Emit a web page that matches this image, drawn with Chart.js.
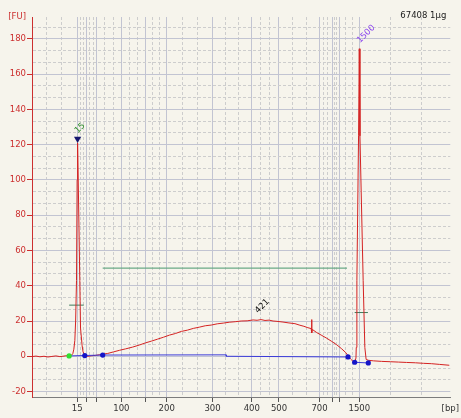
<!DOCTYPE html>
<html>
<head>
<meta charset="utf-8">
<title>Electropherogram 67408</title>
<script src="https://cdn.jsdelivr.net/npm/chart.js@4/dist/chart.umd.min.js"></script>
<style>
  html, body { margin: 0; padding: 0; background: #f6f4ec; }
  #c { display: block; }
</style>
</head>
<body>
<canvas id="c" width="461" height="418"></canvas>
<script>
// ---- sample / axis metadata ----
const sampleTitle = '67408 1\u00b5g';

// DNA ladder: fragment sizes [bp] and their migration times [s]
const ladderSizes  = [15, 25, 50, 100, 150, 200, 300, 400, 500, 700, 850, 1000, 1500];
const ladderTimes  = [35.79, 37.98, 40.48, 46.36, 52.14, 57.21, 68.17, 77.55, 84.05, 93.74, 96.74, 98.40, 103.26];
const labeledSizes = [15, 100, 200, 300, 400, 500, 700, 1500];
// extra dotted time grid outside the ladder range
const outerGridTimes = [28.50, 32.07, 110.79, 118.17];

const timeMin = 25, timeMax = 125;
const fuMin = -23.1, fuMax = 192.4;

// ---- fluorescence trace ----
const traceTime = [
  25.00, 25.95, 26.90, 27.86, 28.81, 29.76, 30.71, 31.67, 32.38, 33.10,
  33.88, 34.45, 34.76, 35.00, 35.24, 35.43, 35.64, 35.79, 35.90, 36.05,
  36.43, 36.60, 36.98, 37.21, 37.62, 38.33, 39.29, 40.24, 41.19,
  41.90, 43.10, 44.52, 45.95, 47.38, 49.05, 50.71, 52.14, 53.57, 55.00,
  56.43, 57.86, 59.29, 60.71, 62.14, 63.57, 65.00, 66.43, 67.86, 69.29,
  70.71, 72.14, 73.57, 75.00, 76.43, 77.86, 78.81, 79.76, 80.71, 81.67,
  82.62, 83.57, 85.00, 86.43, 87.86, 89.05, 90.00, 90.95, 91.74, 91.83,
  91.93, 92.02, 93.10, 94.29, 95.48, 96.67, 97.86, 99.05, 100.00, 100.55,
  101.19, 101.79, 102.14, 102.45, 102.52, 102.67, 103.07, 103.24, 103.40, 104.17,
  104.57, 104.88, 105.48, 106.67, 108.57, 110.71, 112.62, 114.52,
  116.67, 118.57, 120.48, 122.38, 124.76
];
const traceFU = [
  -0.2, 0.1, -0.3, 0.0, -0.4, -0.1, 0.2, -0.2, 0.0, 0.3,
  0.3, 0.6, 1.5, 4.0, 9.0, 20.0, 43.0, 100.0, 121.0, 100.0,
  43.0, 16.0, 6.0, 2.5, 0.3, 0.0, 0.3, 0.5, 0.9,
  1.2, 1.6, 2.5, 3.4, 4.2, 5.2, 6.4, 7.6, 8.6, 9.7,
  10.8, 12.0, 12.9, 14.1, 14.8, 15.8, 16.5, 17.3, 17.7, 18.4,
  18.8, 19.3, 19.6, 20.0, 20.1, 20.6, 20.4, 20.8, 20.3, 20.5,
  20.0, 19.8, 19.4, 18.9, 18.5, 17.6, 17.0, 16.2, 15.7, 20.8,
  13.2, 15.2, 13.4, 11.8, 10.2, 8.4, 6.5, 4.2, 2.1, 0.3,
  -1.6, -3.0, -3.6, -1.0, 5.0, 43.0, 125.0, 174.4, 125.0, 43.0,
  5.0, -1.8, -2.3, -2.6, -2.9, -3.1, -3.3, -3.5,
  -3.7, -4.0, -4.2, -4.6, -5.1
];

// ---- integration baseline (null = gap) ----
const baselineTime = [33.88, 41.90, 71.43, 71.45, 100.55, 101.30, 102.14, 105.40];
const baselineFU   = [0.2, 0.7, 0.8, 0.0, -0.4, null, -3.4, -3.8];

// peak start/end markers
const startDotTime = [33.88];
const startDotFU   = [0.2];
const edgeDotTime  = [37.62, 41.90, 100.55, 102.14, 105.40];
const edgeDotFU    = [0.4, 0.7, -0.4, -3.4, -3.8];

// marker time windows and smear region
const windowStart = [33.88, 102.14];
const windowEnd   = [37.38, 105.31];
const windowFU    = [29.0, 24.8];
const smearStart = 41.90, smearEnd = 100.31, smearFU = 50;

// called peaks
const peakNames  = ['15', '421', '1500'];
const peakSizes  = [15, 421, 1500];
const peakTopFU  = [121.0, 20.6, 174.4];
const peakColors = ['#2a8a2a', '#111111', '#8a44ee'];
const peakGapPx  = [11, 8, 7];

// ---- helpers ----
const pts = (xs, ys) => xs.map((x, i) => ({ x: x, y: ys[i] }));
const sizeToTime = (bp) => {
  for (let i = 0; i < ladderSizes.length - 1; i++) {
    const a = ladderSizes[i], b = ladderSizes[i + 1];
    if (bp >= a && bp <= b) {
      return ladderTimes[i] + (bp - a) / (b - a) * (ladderTimes[i + 1] - ladderTimes[i]);
    }
  }
  return ladderTimes[ladderTimes.length - 1];
};

const isMajorFU = (v) => Math.abs(v / 20 - Math.round(v / 20)) < 1e-6;
const isLadder = (v) => ladderTimes.indexOf(v) >= 0;

function xTicks() {
  const v = [];
  for (let i = 0; i < ladderTimes.length; i++) {
    v.push(ladderTimes[i]);
    if (i < ladderTimes.length - 1) {
      const a = ladderTimes[i], b = ladderTimes[i + 1];
      v.push(a + (b - a) / 3, a + 2 * (b - a) / 3);
    }
  }
  outerGridTimes.forEach(t => v.push(t));
  v.push(timeMax);
  return v.sort((p, q) => p - q);
}
function yTicks() {
  const v = [];
  for (let k = -3; k <= 28; k++) v.push(k * 20 / 3);
  v.push(fuMax);
  return v;
}

const FONT = { family: 'DejaVu Sans', size: 8.5 };
const RED = '#cc2f2f';
const TRACE = '#d42222';

// rotated peak labels and sample title
const textPlugin = {
  id: 'peakText',
  afterDatasetsDraw(chart) {
    const { ctx, scales: { x, y }, chartArea } = chart;
    ctx.save();
    ctx.font = FONT.size + 'px ' + FONT.family;
    peakNames.forEach((name, i) => {
      const px = x.getPixelForValue(sizeToTime(peakSizes[i]));
      const py = y.getPixelForValue(peakTopFU[i]) - peakGapPx[i];
      ctx.save();
      ctx.translate(px - 1, py);
      ctx.rotate(-Math.PI / 4);
      ctx.fillStyle = peakColors[i];
      ctx.textAlign = 'left';
      ctx.textBaseline = 'middle';
      ctx.fillText(name, 0, 0);
      ctx.restore();
    });
    ctx.fillStyle = '#1a1a1a';
    ctx.textAlign = 'right';
    ctx.textBaseline = 'middle';
    ctx.fillText(sampleTitle, chartArea.right - 4, chartArea.top - 1);
    ctx.restore();
  }
};

const datasets = [
  { // triangle marking the lower marker
    label: 'marker', data: pts([ladderTimes[0] + 0.11], [123.3]),
    pointStyle: 'triangle', rotation: 180, pointRadius: 4.2,
    backgroundColor: '#15166e', borderColor: '#15166e', borderWidth: 0, order: 0
  },
  {
    label: 'start', data: pts(startDotTime, startDotFU),
    pointRadius: 2.6, backgroundColor: '#2fe02f', borderColor: '#2fe02f', borderWidth: 0, order: 1
  },
  {
    label: 'edges', data: pts(edgeDotTime, edgeDotFU),
    pointRadius: 2.6, backgroundColor: '#1414c8', borderColor: '#1414c8', borderWidth: 0, order: 1
  },
  {
    label: 'baseline', data: pts(baselineTime, baselineFU), showLine: true,
    borderColor: '#3a3ad8', borderWidth: 1, pointRadius: 0, spanGaps: false, order: 2
  },
  {
    label: 'trace', data: pts(traceTime, traceFU), showLine: true,
    borderColor: TRACE, borderWidth: 1, pointRadius: 0, order: 3
  },
  {
    label: 'smear', data: pts([smearStart, smearEnd], [smearFU, smearFU]), showLine: true,
    borderColor: '#6aaa86', borderWidth: 1.4, pointRadius: 0, order: 4
  }
];
windowStart.forEach((s, i) => {
  datasets.push({
    label: 'window' + i, data: pts([s, windowEnd[i]], [windowFU[i], windowFU[i]]), showLine: true,
    borderColor: '#3d7c5c', borderWidth: 1, pointRadius: 0, order: 4
  });
});

new Chart(document.getElementById('c'), {
  type: 'scatter',
  data: { datasets: datasets },
  options: {
    responsive: false,
    animation: false,
    events: [],
    layout: { padding: { top: 17, right: 9, left: 0, bottom: 0 } },
    plugins: { legend: { display: false }, tooltip: { enabled: false } },
    scales: {
      x: {
        type: 'linear', min: timeMin, max: timeMax,
        afterBuildTicks: (axis) => { axis.ticks = xTicks().map(v => ({ value: v })); },
        afterFit: (s) => { s.height = 21; },
        ticks: {
          autoSkip: false, maxRotation: 0, minRotation: 0, padding: 2,
          color: '#333333', font: FONT,
          callback: (v) => {
            if (v === timeMax) return '[bp]';
            const i = ladderTimes.indexOf(v);
            if (i >= 0 && labeledSizes.indexOf(ladderSizes[i]) >= 0) return String(ladderSizes[i]);
            return '';
          }
        },
        grid: {
          lineWidth: 1, tickLength: 5,
          color: (c) => {
            const v = c.tick ? c.tick.value : null;
            if (v === timeMax) return 'rgba(0,0,0,0)';
            return isLadder(v) ? '#c2c4d2' : '#cdcdcd';
          },
          tickColor: (c) => (c.tick && isLadder(c.tick.value)) ? '#555555' : 'rgba(0,0,0,0)'
        },
        border: {
          color: '#7c7c7c', width: 1,
          dash: (c) => (c.tick && !isLadder(c.tick.value)) ? [3, 2] : []
        }
      },
      y: {
        type: 'linear', min: fuMin, max: fuMax,
        afterBuildTicks: (axis) => { axis.ticks = yTicks().map(v => ({ value: v })); },
        afterFit: (s) => { s.width = 32; },
        ticks: {
          autoSkip: false, padding: 1, color: RED, font: FONT,
          callback: (v) => {
            if (v === fuMax) return '[FU]';
            return isMajorFU(v) ? String(Math.round(v)) : '';
          }
        },
        grid: {
          lineWidth: 1, tickLength: 5,
          color: (c) => {
            const v = c.tick ? c.tick.value : null;
            if (v === fuMax) return 'rgba(0,0,0,0)';
            return isMajorFU(v) ? '#c2c4d2' : '#cdcdcd';
          },
          tickColor: (c) => (c.tick && isMajorFU(c.tick.value)) ? RED : 'rgba(0,0,0,0)'
        },
        border: {
          color: RED, width: 1,
          dash: (c) => (c.tick && !isMajorFU(c.tick.value)) ? [3, 2] : []
        }
      }
    }
  },
  plugins: [textPlugin]
});
</script>
</body>
</html>
